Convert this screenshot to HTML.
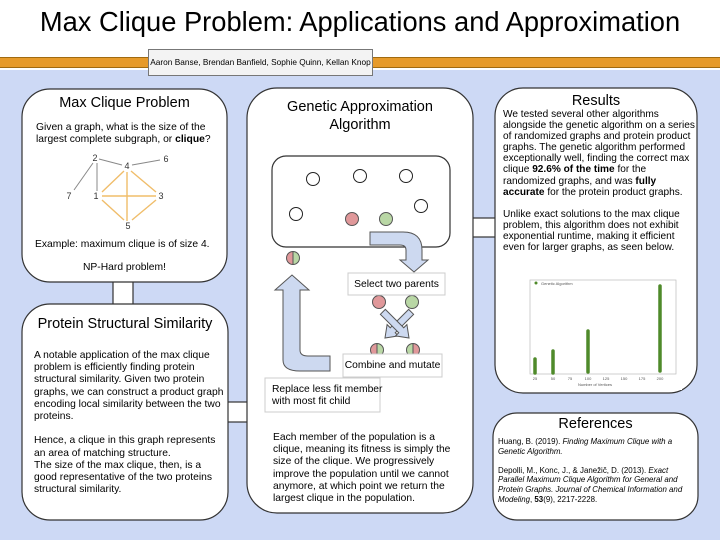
<!DOCTYPE html>
<html><head><meta charset="utf-8"><style>
*{margin:0;padding:0;box-sizing:border-box}
body{width:720px;height:540px;position:relative;overflow:hidden;background:#fff;font-family:"Liberation Sans",Arial,sans-serif;color:#000}
.a{position:absolute;white-space:nowrap}
.t{font-size:10.3px;line-height:12.2px}
.h{font-size:14.5px;text-align:center}
</style></head><body>
<div class="a" style="left:0;top:70px;width:720px;height:470px;background:#cdd9f5"></div>
<div class="a" style="left:0;top:57px;width:720px;height:11px;background:#e69a2a;border-top:1px solid #a06a10;border-bottom:1px solid #a06a10"></div>
<div class="a" style="left:0;top:6px;width:720px;text-align:center;font-size:27.3px">Max Clique Problem: Applications and Approximation</div>
<div class="a" style="left:148px;top:49px;width:225px;height:27px;background:#f3f3f3;border:1px solid #777;font-size:8.3px;text-align:center;line-height:25px">Aaron Banse, Brendan Banfield, Sophie Quinn, Kellan Knop</div>
<svg class="a" style="left:0;top:0" width="720" height="540">
<g fill="#fff" stroke="#333" stroke-width="1.2">
<rect x="113" y="280" width="20" height="26"/>
<rect x="226" y="402" width="22" height="20"/>
<rect x="471" y="218" width="26" height="19"/>
<rect x="22" y="89" width="205" height="193" rx="28"/>
<rect x="22" y="304" width="206" height="216" rx="28"/>
<rect x="247" y="88" width="226" height="425" rx="30"/>
<rect x="495" y="88" width="202" height="305" rx="28"/>
<rect x="493" y="413" width="205" height="107" rx="24"/>
<rect x="272" y="156" width="178" height="91" rx="14"/>
</g>
<g stroke="#888" stroke-width="1"><line x1="99" y1="159" x2="122" y2="165"/><line x1="132" y1="165" x2="160" y2="160"/><line x1="93" y1="163" x2="74" y2="190"/><line x1="97" y1="163" x2="97" y2="191"/></g>
<g stroke="#f0bd6a" stroke-width="1.4"><line x1="124" y1="171" x2="102" y2="192"/><line x1="131" y1="171" x2="156" y2="192"/><line x1="127" y1="172" x2="127" y2="221"/><line x1="102" y1="196" x2="156" y2="196"/><line x1="102" y1="200" x2="124" y2="220"/><line x1="156" y1="200" x2="132" y2="220"/></g>
<g font-size="9" fill="#333" text-anchor="middle"><text x="95" y="161">2</text><text x="166" y="162">6</text><text x="127" y="169">4</text><text x="69" y="199">7</text><text x="96" y="199">1</text><text x="161" y="199">3</text><text x="128" y="229">5</text></g>
<g fill="#fff" stroke="#222" stroke-width="1"><circle cx="313" cy="179" r="6.5"/><circle cx="360" cy="176" r="6.5"/><circle cx="406" cy="176" r="6.5"/><circle cx="421" cy="206" r="6.5"/><circle cx="296" cy="214" r="6.5"/></g>
<g stroke="#555" stroke-width="1"><circle cx="352" cy="219" r="6.5" fill="#e0989a"/><circle cx="386" cy="219" r="6.5" fill="#b9d7a5"/><circle cx="379" cy="302" r="6.5" fill="#e0989a"/><circle cx="412" cy="302" r="6.5" fill="#b9d7a5"/></g>
<g stroke="#555" stroke-width="1">
<path d="M293 251.5a6.5 6.5 0 0 0 0 13z" fill="#e0989a"/><path d="M293 251.5a6.5 6.5 0 0 1 0 13z" fill="#b9d7a5"/>
<path d="M377 343.5a6.5 6.5 0 0 0 0 13z" fill="#e0989a"/><path d="M377 343.5a6.5 6.5 0 0 1 0 13z" fill="#b9d7a5"/>
<path d="M413 343.5a6.5 6.5 0 0 0 0 13z" fill="#b9d7a5"/><path d="M413 343.5a6.5 6.5 0 0 1 0 13z" fill="#e0989a"/>
</g>
<g fill="#cdd9f0" stroke="#555" stroke-width="1">
<path d="M370 232H403Q422 232 422 250V260H428L414 272L400 260H406V250Q406 245 400 245H370Z"/>
<path d="M283 360V290H275L292 275L309 290H300V350Q300 356 308 356H330V371H300Q283 371 283 360Z"/>
<path transform="translate(397,326) rotate(45)" d="M-3.5,-20L3.5,-20L3.5,6L8,6L0,17L-8,6L-3.5,6Z"/>
<path transform="translate(397,326) rotate(-45)" d="M-3.5,-20L3.5,-20L3.5,6L8,6L0,17L-8,6L-3.5,6Z"/>
</g>
<g fill="#fff" stroke="#ccc" stroke-width="1"><rect x="348" y="273" width="97" height="22"/><rect x="343" y="354" width="99" height="23"/><rect x="265" y="378" width="115" height="34"/></g>
<rect x="512" y="278" width="170" height="112" fill="#fff"/>
<rect x="530" y="280" width="146" height="94" fill="none" stroke="#bbb" stroke-width="0.7"/>
<g stroke="#4f8a2a" stroke-width="3.5" stroke-linecap="round"><line x1="535" y1="359" x2="535" y2="373"/><line x1="553" y1="351" x2="553" y2="373"/><line x1="588" y1="331" x2="588" y2="372"/><line x1="660" y1="286" x2="660" y2="371"/></g>
<circle cx="536" cy="283" r="1.5" fill="#4f8a2a"/>
<text x="541" y="285" font-size="4" fill="#555">Genetic Algorithm</text>
<g font-size="4" fill="#555" text-anchor="middle"><text x="535" y="380">25</text><text x="553" y="380">50</text><text x="570" y="380">75</text><text x="588" y="380">100</text><text x="606" y="380">125</text><text x="624" y="380">150</text><text x="642" y="380">175</text><text x="660" y="380">200</text></g>
<text x="595" y="386" font-size="4" fill="#555" text-anchor="middle">Number of Vertices</text>
</svg>
<div class="a h" style="left:22px;top:95px;width:205px">Max Clique Problem</div>
<div class="a t" style="left:36px;top:122px">Given a graph, what is the size of the<br>largest complete subgraph, or <b>clique</b>?</div>
<div class="a t" style="left:35px;top:239px">Example: maximum clique is of size 4.</div>
<div class="a t" style="left:22px;top:262px;width:205px;text-align:center">NP-Hard problem!</div>
<div class="a h" style="left:22px;top:316px;width:206px">Protein Structural Similarity</div>
<div class="a t" style="left:34px;top:350px">A notable application of the max clique<br>problem is efficiently finding protein<br>structural similarity. Given two protein<br>graphs, we can construct a product graph<br>encoding local similarity between the two<br>proteins.<br><br>Hence, a clique in this graph represents<br>an area of matching structure.<br>The size of the max clique, then, is a<br>good representative of the two proteins<br>structural similarity.</div>
<div class="a h" style="left:247px;top:98px;width:226px;line-height:18px">Genetic Approximation<br>Algorithm</div>
<div class="a t" style="left:348px;top:279px;width:97px;text-align:center">Select two parents</div>
<div class="a t" style="left:343px;top:360px;width:99px;text-align:center">Combine and mutate</div>
<div class="a t" style="left:272px;top:384px">Replace less fit member<br>with most fit child</div>
<div class="a t" style="left:273px;top:432px">Each member of the population is a<br>clique, meaning its fitness is simply the<br>size of the clique. We progressively<br>improve the population until we cannot<br>anymore, at which point we return the<br>largest clique in the population.</div>
<div class="a h" style="left:495px;top:93px;width:202px">Results</div>
<div class="a" style="left:503px;top:109px;font-size:10.1px;line-height:11.1px">We tested several other algorithms<br>alongside the genetic algorithm on a series<br>of randomized graphs and protein product<br>graphs. The genetic algorithm performed<br>exceptionally well, finding the correct max<br>clique <b>92.6% of the time</b> for the<br>randomized graphs, and was <b>fully</b><br><b>accurate</b> for the protein product graphs.<br><br>Unlike exact solutions to the max clique<br>problem, this algorithm does not exhibit<br>exponential runtime, making it efficient<br>even for larger graphs, as seen below.</div>
<div class="a h" style="left:493px;top:416px;width:205px">References</div>
<div class="a" style="left:498px;top:437px;font-size:7.9px;line-height:9.6px">Huang, B. (2019). <i>Finding Maximum Clique with a</i><br><i>Genetic Algorithm.</i><br><br>Depolli, M., Konc, J., &amp; Janežič, D. (2013). <i>Exact</i><br><i>Parallel Maximum Clique Algorithm for General and</i><br><i>Protein Graphs. Journal of Chemical Information and</i><br><i>Modeling</i>, <b>53</b>(9), 2217-2228.</div>
</body></html>
